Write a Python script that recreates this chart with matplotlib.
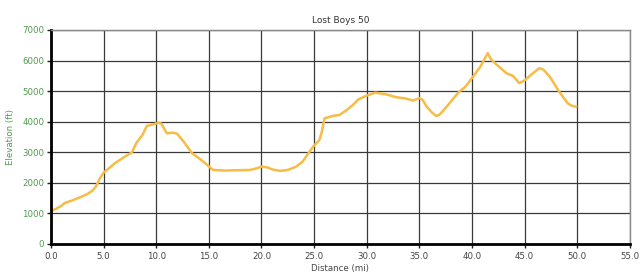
import matplotlib
matplotlib.use("Agg")
import matplotlib.pyplot as plt
from matplotlib.ticker import MultipleLocator, FormatStrFormatter

# elevation profile (miles, feet)
distance = [0.0, 0.5, 1.0, 1.3, 2.0, 3.0, 3.5, 4.0, 4.3, 4.65, 5.0, 6.1, 7.0, 7.7, 8.1, 8.7,
            9.1, 9.9, 10.2, 10.5, 11.0, 11.6, 12.0, 12.6, 13.4, 14.15, 14.8, 15.4, 16.5,
            17.5, 18.9, 19.5, 20.0, 20.6, 21.0, 21.75, 22.5, 23.3, 23.9, 24.9, 25.5, 25.7,
            26.0, 26.8, 27.4, 28.1, 28.7, 29.2, 30.0, 30.8, 31.8, 32.8, 33.7, 34.4, 35.0,
            35.3, 35.7, 36.2, 36.6, 36.9, 37.6, 38.7, 39.4, 40.1, 40.8, 41.5, 41.8, 42.2,
            43.3, 43.9, 44.5, 45.0, 45.5, 46.4, 46.8, 47.4, 48.3, 49.1, 49.5, 49.9]
elevation = [1080, 1150, 1250, 1340, 1420, 1560, 1640, 1760, 1900, 2150, 2330, 2650, 2850,
             3000, 3300, 3570, 3860, 3930, 3970, 3930, 3620, 3640, 3600, 3350, 2970, 2780,
             2600, 2420, 2400, 2410, 2420, 2470, 2530, 2500, 2440, 2390, 2420, 2530, 2690,
             3180, 3400, 3620, 4110, 4190, 4220, 4380, 4550, 4730, 4850, 4950, 4900, 4800,
             4760, 4690, 4770, 4720, 4490, 4300, 4190, 4220, 4490, 4950, 5150, 5470, 5800,
             6240, 6050, 5910, 5580, 5500, 5260, 5350, 5500, 5750, 5700, 5470, 4980, 4600,
             4520, 4490]

label_green = "#4f9a4f"
text_gray = "#444444"

plt.rcParams['font.family'] = ['DejaVu Sans']
plt.rcParams['font.size'] = 6.2

fig = plt.figure(figsize=(6.4, 2.75), dpi=100)
ax = fig.add_axes([0.0797, 0.113, 0.9043, 0.778])

ax.plot(distance, elevation, color="#f7bc45", linewidth=1.8, solid_joinstyle='round')

ax.set_xlim(0, 55)
ax.set_ylim(0, 7000)
ax.xaxis.set_major_locator(MultipleLocator(5))
ax.yaxis.set_major_locator(MultipleLocator(1000))
ax.xaxis.set_major_formatter(FormatStrFormatter('%.1f'))

ax.grid(True, color="#3a3a3a", linewidth=0.9)
ax.set_axisbelow(True)

for side in ['top', 'right']:
    ax.spines[side].set_color("#888888")
    ax.spines[side].set_linewidth(1.0)
for side in ['left', 'bottom']:
    ax.spines[side].set_color("#000000")
    ax.spines[side].set_linewidth(2.0)

ax.tick_params(axis='y', colors='#222222', labelcolor=label_green, length=3, width=1, pad=2)
ax.tick_params(axis='x', colors='#222222', labelcolor=text_gray, length=3, width=1, pad=3)

ax.set_title("Lost Boys 50", fontsize=6.5, color="#333333", pad=5)
ax.set_xlabel("Distance (mi)", color=text_gray, labelpad=2)
ax.set_ylabel("Elevation (ft)", color=label_green, labelpad=5)

fig.savefig("out.png", dpi=100)
